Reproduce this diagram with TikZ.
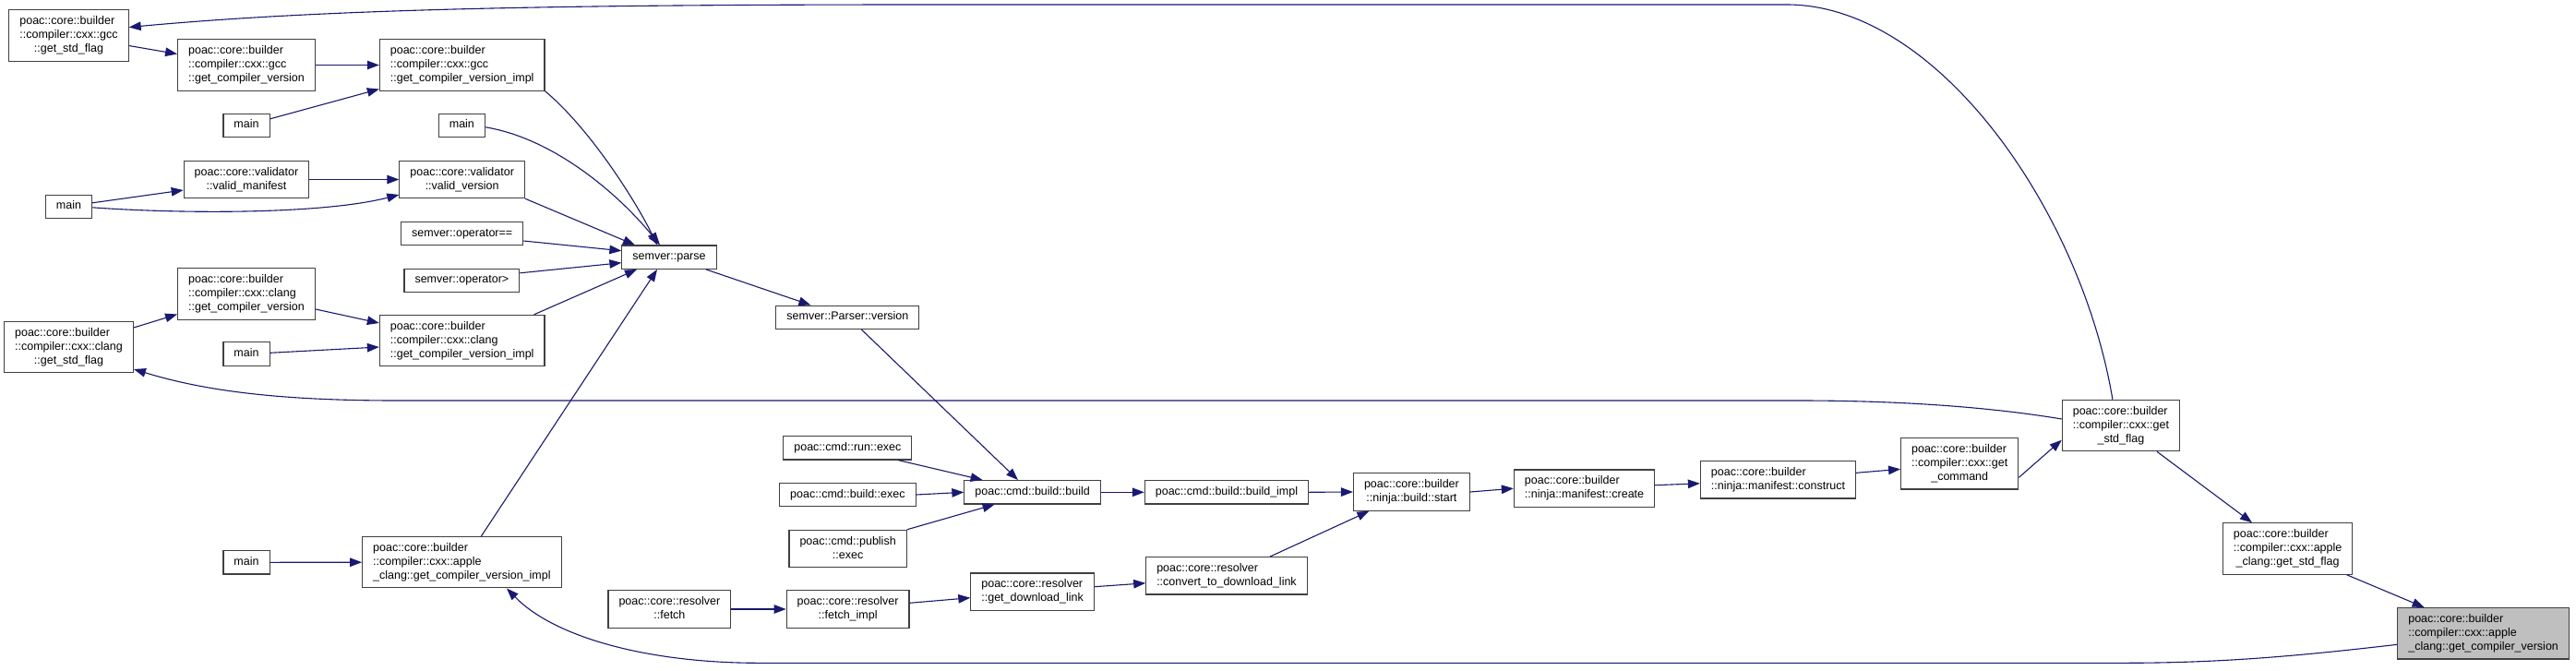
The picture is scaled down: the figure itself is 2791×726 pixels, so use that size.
\documentclass[tikz,border=0pt]{standalone}
\usepackage{fontspec}
\setmainfont{Liberation Sans}
\usetikzlibrary{arrows.meta}

\definecolor{edgeblue}{HTML}{191970}
% first lines flush left, last line centred
\newcommand{\fnlabel}[2]{\begin{tabular}{@{}l@{}}#1\\\multicolumn{1}{@{}c@{}}{#2}\end{tabular}}
\newcommand{\fnsingle}[1]{\begin{tabular}{@{}c@{}}#1\end{tabular}}

\begin{document}
\begin{tikzpicture}[
    x=1pt, y=-1pt,
    % Style for function boxes
    fn/.style={draw=black!75, fill=white, line width=1.1pt, inner xsep=11.5pt, inner ysep=5.2pt,
        font=\fontsize{12.5}{15}\selectfont},
    fnroot/.style={fn, fill=black!25},
    call/.style={draw=edgeblue, line width=1.1pt, -{Triangle[length=13pt,width=9.5pt]}}
]
    \useasboundingbox (0,0) rectangle (2791,726);

    % ==========================
    % Left column: compiler helpers
    % ==========================
    \node[fn] (gccStd) at (74.5,38.5) {\fnlabel{poac::core::builder\\::compiler::cxx::gcc}{::get\_std\_flag}};
    \node[fn] (gccVer) at (267,70.5) {\fnlabel{poac::core::builder\\::compiler::cxx::gcc}{::get\_compiler\_version}};
    \node[fn] (gccImpl) at (500.7,70.5) {\fnlabel{poac::core::builder\\::compiler::cxx::gcc}{::get\_compiler\_version\_impl}};
    \node[fn] (mainA) at (267,135.8) {\fnsingle{main}};
    \node[fn] (mainB) at (500.4,135.8) {\fnsingle{main}};
    \node[fn] (validManifest) at (267,194.5) {\fnlabel{poac::core::validator}{::valid\_manifest}};
    \node[fn] (validVersion) at (500.7,194.5) {\fnlabel{poac::core::validator}{::valid\_version}};
    \node[fn] (mainC) at (74.5,223.8) {\fnsingle{main}};
    \node[fn] (opEq) at (500.7,253) {\fnsingle{semver::operator==}};
    \node[fn] (opGt) at (500.4,303.8) {\fnsingle{semver::operator>}};
    \node[fn] (parse) at (725,278.7) {\fnsingle{semver::parse}};
    \node[fn] (clangVer) at (267,318.5) {\fnlabel{poac::core::builder\\::compiler::cxx::clang}{::get\_compiler\_version}};
    \node[fn] (clangImpl) at (500.7,369) {\fnlabel{poac::core::builder\\::compiler::cxx::clang}{::get\_compiler\_version\_impl}};
    \node[fn] (mainD) at (267,383.6) {\fnsingle{main}};
    \node[fn] (clangStd) at (74.5,376) {\fnlabel{poac::core::builder\\::compiler::cxx::clang}{::get\_std\_flag}};
    \node[fn] (mainE) at (267,609.3) {\fnsingle{main}};
    \node[fn] (appleImpl) at (500.4,609.2) {\fnlabel{poac::core::builder\\::compiler::cxx::apple}{\_clang::get\_compiler\_version\_impl}};

    % ==========================
    % Middle: cmd and resolver
    % ==========================
    \node[fn] (parserVersion) at (918.4,343.8) {\fnsingle{semver::Parser::version}};
    \node[fn] (runExec) at (918.4,485.3) {\fnsingle{poac::cmd::run::exec}};
    \node[fn] (buildExec) at (918.4,536) {\fnsingle{poac::cmd::build::exec}};
    \node[fn] (publishExec) at (918.6,594.5) {\fnlabel{poac::cmd::publish}{::exec}};
    \node[fn] (buildBuild) at (1118.6,533.3) {\fnsingle{poac::cmd::build::build}};
    \node[fn] (buildImpl) at (1329,533.3) {\fnsingle{poac::cmd::build::build\_impl}};
    \node[fn] (resolverFetch) at (725.4,660) {\fnlabel{poac::core::resolver}{::fetch}};
    \node[fn] (fetchImpl) at (918.6,660) {\fnlabel{poac::core::resolver}{::fetch\_impl}};
    \node[fn] (downloadLink) at (1118.6,641.2) {\fnlabel{poac::core::resolver}{::get\_download\_link}};
    \node[fn] (convertLink) at (1329,623.8) {\fnlabel{poac::core::resolver}{::convert\_to\_download\_link}};

    % ==========================
    % Right: ninja and target
    % ==========================
    \node[fn] (ninjaStart) at (1529.4,533) {\fnlabel{poac::core::builder}{::ninja::build::start}};
    \node[fn] (manifestCreate) at (1716.5,529.2) {\fnlabel{poac::core::builder}{::ninja::manifest::create}};
    \node[fn] (manifestConstruct) at (1926.5,519.8) {\fnlabel{poac::core::builder}{::ninja::manifest::construct}};
    \node[fn] (getCommand) at (2123.2,502.3) {\fnlabel{poac::core::builder\\::compiler::cxx::get}{\_command}};
    \node[fn] (getStd) at (2297.9,461) {\fnlabel{poac::core::builder\\::compiler::cxx::get}{\_std\_flag}};
    \node[fn] (appleStd) at (2478.6,594.5) {\fnlabel{poac::core::builder\\::compiler::cxx::apple}{\_clang::get\_std\_flag}};
    \node[fnroot] (appleVer) at (2690.6,686.3) {\fnlabel{poac::core::builder\\::compiler::cxx::apple}{\_clang::get\_compiler\_version}};

    % ==========================
    % Calls
    % ==========================
    \draw[call] ([xshift=-9pt]getStd.north) .. controls (2255,230) and (2100,5) .. (1936,5)
        -- (1000,5) .. controls (600,5) and (350,10) .. ([yshift=9pt]gccStd.east);
    \draw[call] ([yshift=-11pt]gccStd.east) -- ([yshift=12pt]gccVer.west);
    \draw[call] (gccVer.east) -- (gccImpl.west);
    \draw[call] ([yshift=7pt]mainA.east) -- ([yshift=-26pt]gccImpl.west);
    \draw[call] (gccImpl.south east) .. controls (640,140) and (690,220) .. ([xshift=-13pt]parse.north);
    \draw[call] ([yshift=-2pt]mainB.east) .. controls (600,150) and (670,210) .. ([xshift=-10pt]parse.north);
    \draw[call] (validVersion.south east) -- ([xshift=-37pt]parse.north);
    \draw[call] ([yshift=-8pt]opEq.east) -- ([yshift=7pt]parse.west);
    \draw[call] ([yshift=8pt]opGt.east) -- ([yshift=-6pt]parse.west);
    \draw[call] ([xshift=78pt]clangImpl.north) -- ([xshift=-35pt]parse.south);
    \draw[call] ([xshift=21pt]appleImpl.north) -- ([xshift=-13pt]parse.south);
    \draw[call] ([xshift=40pt]parse.south) -- ([xshift=-40pt]parserVersion.north);
    \draw[call] ([xshift=15pt]parserVersion.south) -- ([xshift=-15.6pt]buildBuild.north);
    \draw[call] ([xshift=54.6pt]runExec.south) -- ([xshift=-54pt]buildBuild.north);
    \draw[call] (buildExec.east) -- (buildBuild.west);
    \draw[call] (publishExec.north east) -- ([xshift=-41pt]buildBuild.south);
    \draw[call] (buildBuild.east) -- (buildImpl.west);
    \draw[call] (buildImpl.east) -- (ninjaStart.west);
    \draw[call] ([xshift=47pt]convertLink.north) -- ([xshift=-46pt]ninjaStart.south);
    \draw[call] (resolverFetch.east) -- (fetchImpl.west);
    \draw[call] ([yshift=6.7pt]fetchImpl.east) -- ([yshift=-6.5pt]downloadLink.west);
    \draw[call] ([yshift=5.5pt]downloadLink.east) -- ([yshift=-8pt]convertLink.west);
    \draw[call] (ninjaStart.east) -- (manifestCreate.west);
    \draw[call] ([yshift=3.5pt]manifestCreate.east) -- ([yshift=-4pt]manifestConstruct.west);
    \draw[call] ([yshift=7.5pt]manifestConstruct.east) -- ([yshift=-6pt]getCommand.west);
    \draw[call] ([yshift=-15pt]getCommand.east) -- ([yshift=-15.7pt]getStd.west);
    \draw[call] ([xshift=39pt]getStd.south) -- ([xshift=-38.6pt]appleStd.north);
    \draw[call] ([xshift=64pt]appleStd.south) -- ([xshift=-64pt]appleVer.north);
    \draw[call] ([yshift=7pt]getStd.west) .. controls (2150,440) and (2050,434) .. (1950,434)
        -- (430,434) .. controls (300,434) and (220,423) .. ([yshift=-24pt]clangStd.east);
    \draw[call] ([yshift=21pt]clangStd.east) -- ([yshift=-22pt]clangVer.west);
    \draw[call] ([yshift=-16.5pt]clangVer.east) -- ([yshift=19pt]clangImpl.west);
    \draw[call] ([yshift=1.3pt]mainD.east) -- ([yshift=-7pt]clangImpl.west);
    \draw[call] ([yshift=4pt]mainC.east) -- ([yshift=-11.5pt]validManifest.west);
    \draw[call] ([yshift=-1pt]mainC.east) .. controls (200,232) and (350,232) .. ([yshift=-16.5pt]validVersion.west);
    \draw[call] (validManifest.east) -- (validVersion.west);
    \draw[call] (mainE.east) -- (appleImpl.west);
    \draw[call] ([yshift=-12pt]appleVer.west) .. controls (2480,712) and (2400,718.3) .. (2300,718.3)
        -- (820,718.3) .. controls (700,718) and (600,690) .. ([xshift=48.6pt]appleImpl.south);

\end{tikzpicture}
\end{document}
